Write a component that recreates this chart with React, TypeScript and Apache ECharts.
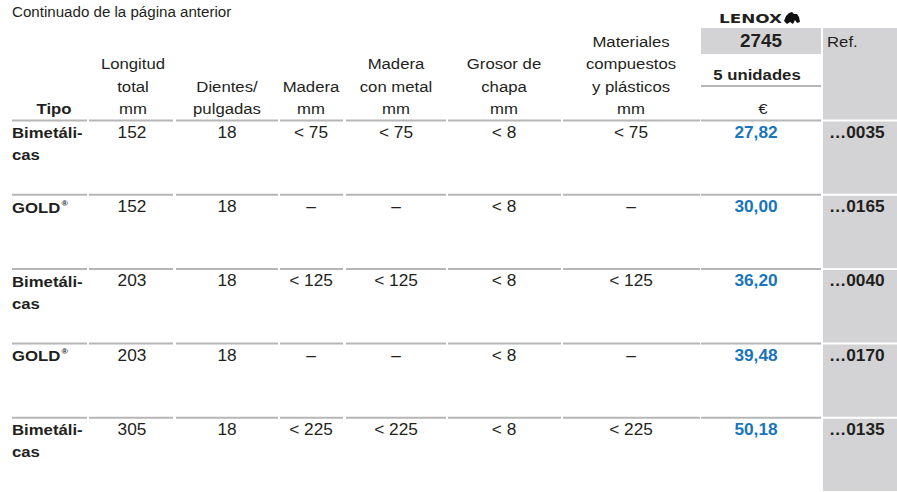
import React, { useEffect, useRef } from "react";
import * as echarts from "echarts";

// ---------- data ----------
const pageNote = "Continuado de la página anterior";
const brandName = "LENOX";
const productCode = "2745";
const packLabel = "5 unidades";
const currencyLabel = "€";
const refLabel = "Ref.";

const headerTipo = ["Tipo"];
const headerColumns = [
  ["Longitud", "total", "mm"],
  ["Dientes/", "pulgadas"],
  ["Madera", "mm"],
  ["Madera", "con metal", "mm"],
  ["Grosor de", "chapa", "mm"],
  ["Materiales", "compuestos", "y plásticos", "mm"],
];

const typeLabels = ["Bimetáli-\ncas", "GOLD®", "Bimetáli-\ncas", "GOLD®", "Bimetáli-\ncas"];
const lengthMm = ["152", "152", "203", "203", "305"];
const teethPerInch = ["18", "18", "18", "18", "18"];
const woodMm = ["< 75", "–", "< 125", "–", "< 225"];
const woodMetalMm = ["< 75", "–", "< 125", "–", "< 225"];
const sheetMm = ["< 8", "< 8", "< 8", "< 8", "< 8"];
const compositeMm = ["< 75", "–", "< 125", "–", "< 225"];
const prices = ["27,82", "30,00", "36,20", "39,48", "50,18"];
const refs = ["…0035", "…0165", "…0040", "…0170", "…0135"];

// ---------- layout / style ----------
const FONT = '"Liberation Sans", Arial, Helvetica, sans-serif';
const SX = 1.08;
const INK = "#231f20";
const BLUE = "#1a75bb";
const GREY = "#d3d3d5";
const RULE = "#b6b6b6";
const colSpans = [
  [12, 87],
  [89, 173],
  [176, 278],
  [280, 343],
  [346, 446],
  [448, 561],
  [563, 700],
  [701, 821],
];
const dataCenters = [132, 227, 311, 396, 504, 631];
const headerCenters = [133, 227, 311, 396, 504, 631];
const headerLineYs = [41, 63.5, 86, 108.5];
const refX0 = 823;
const refX1 = 897;

function gtext(x: number, y: number, text: string, o: any = {}) {
  const align = o.align || "center";
  return {
    type: "text",
    x,
    y,
    scaleX: o.scaleX ?? SX,
    scaleY: 1,
    z: 10,
    style: {
      text,
      x: 0,
      y: 0,
      fill: o.fill || INK,
      fontSize: o.fontSize || 15.5,
      fontWeight: o.fontWeight || "normal",
      fontFamily: o.fontFamily || FONT,
      align,
      verticalAlign: "middle",
      textAlign: align,
      textVerticalAlign: "middle",
      rich: o.rich,
    },
  };
}

export default function App() {
  const ref = useRef<HTMLDivElement>(null);

  useEffect(() => {
    if (!ref.current) return;
    const chart = echarts.init(ref.current, undefined, { renderer: "svg" });

    const graphics: any[] = [];
    graphics.push(gtext(12, 12, pageNote, { align: "left", fontSize: 14 }));
    // brand
    graphics.push(
      gtext(719, 18, brandName, {
        align: "left",
        fontSize: 12.5,
        fontWeight: 900,
        fontFamily: '"DejaVu Sans", sans-serif',
        scaleX: 1.35,
      })
    );
    graphics.push({
      type: "polygon",
      z: 10,
      shape: {
        points: [
          [784, 21], [786, 16], [789, 13], [792, 12], [794, 14], [797, 14],
          [799, 17], [800, 22], [797, 23], [795, 20], [793, 24], [790, 22], [787, 24],
        ],
      },
      style: { fill: "#111" },
    });
    // grey header boxes
    graphics.push({ type: "rect", z: 1, shape: { x: 701, y: 28, width: 120, height: 26 }, style: { fill: GREY } });
    graphics.push({ type: "rect", z: 1, shape: { x: refX0, y: 28, width: refX1 - refX0, height: 91.5 }, style: { fill: GREY } });
    graphics.push(gtext(761, 41, productCode, { fontSize: 17.5, fontWeight: "bold" }));
    graphics.push(gtext(827, 41, refLabel, { align: "left", fontSize: 15.5 }));
    graphics.push(gtext(757, 74, packLabel, { fontSize: 15.5, fontWeight: "bold" }));
    graphics.push({ type: "line", z: 5, shape: { x1: 701, y1: 86, x2: 821, y2: 86 }, style: { stroke: RULE, lineWidth: 2 } });
    graphics.push(gtext(763, 108.5, currencyLabel, { fontSize: 15.5 }));
    graphics.push(gtext(54, 108.5, headerTipo[0], { fontSize: 15.5, fontWeight: "bold" }));
    headerColumns.forEach((lines, c) => {
      const start = headerLineYs.length - lines.length;
      lines.forEach((t, k) => {
        graphics.push(gtext(headerCenters[c], headerLineYs[start + k], t, { fontSize: 15.5 }));
      });
    });

    const rowCats = typeLabels.map((_, i) => String(i));

    const option: any = {
      animation: false,
      backgroundColor: "#ffffff",
      grid: { left: 0, top: 120.5, width: 897, height: 377, containLabel: false },
      xAxis: { type: "value", min: 0, max: 897, show: false },
      yAxis: { type: "category", data: rowCats, inverse: true, show: false, boundaryGap: true },
      graphic: { elements: graphics },
      series: [
        {
          type: "custom",
          coordinateSystem: "cartesian2d",
          clip: false,
          silent: true,
          data: rowCats.map((_, i) => [0, i]),
          renderItem: (params: any, api: any) => {
            const i = params.dataIndex;
            const rowVal = api.value(1);
            const cy = api.coord([0, rowVal])[1];
            const band = api.size([0, 1])[1];
            const top = cy - band / 2;
            const X = (v: number) => api.coord([v, rowVal])[0];
            const y1 = top + 12;
            const y2 = top + 34;
            const children: any[] = [];
            // rules
            colSpans.forEach(([a, b]) => {
              children.push({
                type: "line",
                shape: { x1: X(a), y1: top, x2: X(b), y2: top },
                style: { stroke: RULE, lineWidth: 2 },
              });
            });
            // ref grey cell
            children.push({
              type: "rect",
              shape: { x: X(refX0), y: top + 1, width: X(refX1) - X(refX0), height: band - 2 },
              style: { fill: GREY },
            });
            // type
            const lines = typeLabels[i].split("\n");
            lines.forEach((ln, k) => {
              if (ln.includes("®")) {
                children.push(
                  gtext(X(12), y1, "{b|" + ln.replace("®", "") + "}{s|®}", {
                    align: "left",
                    fontSize: 15.5,
                    fontWeight: "bold",
                    rich: {
                      b: { fontSize: 15.5, fontWeight: "bold", fontFamily: FONT, fill: INK },
                      s: { fontSize: 8, fontWeight: "bold", fontFamily: FONT, fill: INK, verticalAlign: "top", padding: [0, 0, 0, 1] },
                    },
                  })
                );
              } else {
                children.push(gtext(X(12), k === 0 ? y1 : y2, ln, { align: "left", fontSize: 15.5, fontWeight: "bold" }));
              }
            });
            const vals = [lengthMm[i], teethPerInch[i], woodMm[i], woodMetalMm[i], sheetMm[i], compositeMm[i]];
            vals.forEach((v, c) => {
              children.push(gtext(X(dataCenters[c]), y1, v, { fontSize: 16 }));
            });
            children.push(gtext(X(756), y1, prices[i], { fontSize: 16, fontWeight: "bold", fill: BLUE }));
            children.push(gtext(X(829), y1, refs[i], { align: "left", fontSize: 16, fontWeight: "bold" }));
            return { type: "group", children };
          },
        },
      ],
    };
    chart.setOption(option);
    return () => chart.dispose();
  }, []);

  return (
    <div
      ref={ref}
      style={{ position: "fixed", left: 0, top: 0, width: 897, height: 492, background: "#fff" }}
    />
  );
}
